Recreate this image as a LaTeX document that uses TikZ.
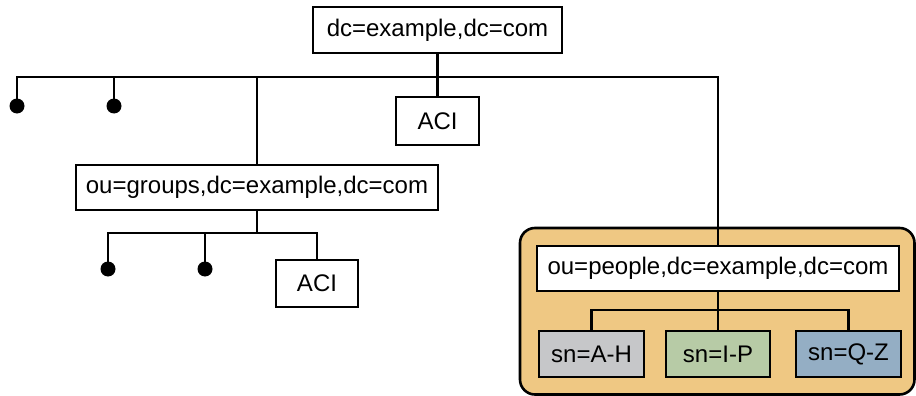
\documentclass[tikz,border=0pt]{standalone}
\usepackage{fontspec}
\setmainfont{Liberation Sans}
\definecolor{orangebg}{RGB}{239,200,131}
\definecolor{graybox}{RGB}{198,199,201}
\definecolor{greenbox}{RGB}{183,203,166}
\definecolor{bluebox}{RGB}{148,174,196}
\begin{document}
\begin{tikzpicture}[x=1pt,y=-1pt,line width=2.6pt,
  entry/.style={draw,fill=white,inner sep=0pt,font=\fontsize{24}{28}\selectfont},
  dot/.style={circle,fill,inner sep=0pt,minimum size=15pt}]
\useasboundingbox (0,0) rectangle (916,396);
% orange group
\draw[rounded corners=15pt,fill=orangebg] (520,228) rectangle (914.5,394.5);
% nodes
\node[entry,minimum width=249pt,minimum height=46pt] (root) at (437.5,30) {dc=example,dc=com};
\node[entry,minimum width=83pt,minimum height=48pt] (aci1) at (437.5,121) {ACI};
\node[entry,minimum width=362pt,minimum height=45pt] (groups) at (257,187.5) {ou=groups,dc=example,dc=com};
\node[entry,minimum width=82pt,minimum height=47pt] (aci2) at (317,283.5) {ACI};
\node[entry,minimum width=362pt,minimum height=45pt] (people) at (718,268.5) {ou=people,dc=example,dc=com};
\node[entry,fill=graybox,minimum width=105pt,minimum height=46pt] (sn1) at (591.5,354) {sn=A-H};
\node[entry,fill=greenbox,minimum width=104pt,minimum height=46pt] (sn2) at (718,354) {sn=I-P};
\node[entry,fill=bluebox,minimum width=105pt,minimum height=46pt] (sn3) at (848.5,354) {sn=Q-Z};
\node[dot] (d1) at (17,106) {};
\node[dot] (d2) at (114,106) {};
\node[dot] (g1) at (108,269) {};
\node[dot] (g2) at (205,269) {};
% junctions
\coordinate (jr) at (437.5,77);
\coordinate (jg) at (257,233);
\coordinate (jp) at (718,310);
% connectors
\draw (root) -- (aci1);
\draw (d1.center) |- (jr) -| (people.north);
\draw (d2.center) -- (d2 |- jr);
\draw (groups.north) -- (groups.north |- jr);
\draw (groups.south) -- (jg);
\draw (g1.center) |- (jg) -| (aci2.north);
\draw (g2.center) -- (g2 |- jg);
\draw (people.south) -- (sn2.north);
\draw (sn1.north) |- (jp) -| (sn3.north);
\end{tikzpicture}
\end{document}
